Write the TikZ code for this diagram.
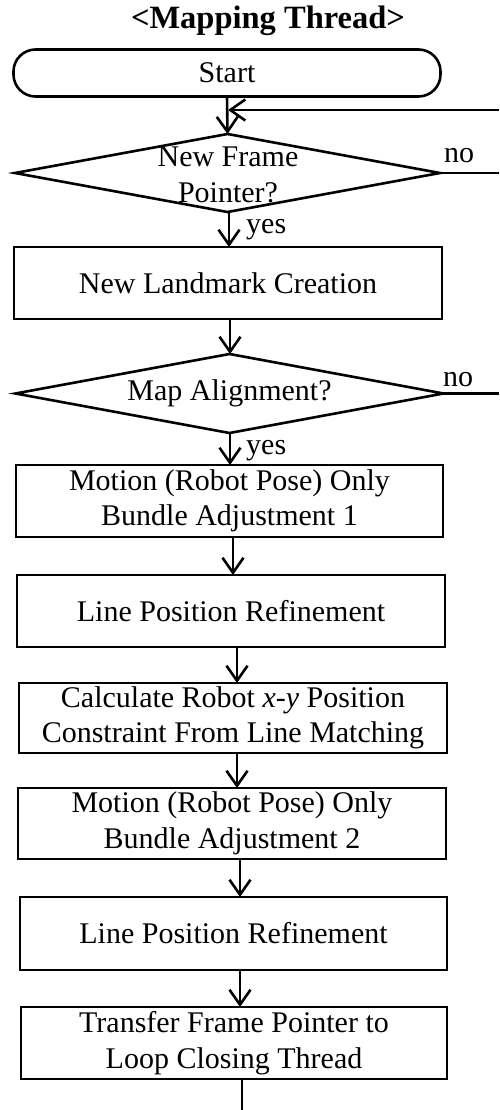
\documentclass[tikz,border=0pt]{standalone}
\usepackage{fontspec}
\setmainfont{Liberation Serif}
\usetikzlibrary{arrows.meta,shapes.geometric}

\tikzset{
  outline/.style={draw, line width=2.6pt, inner sep=0pt, outer sep=0pt},
  txt/.style={font=\fontsize{30}{35.5}\selectfont, align=center, inner sep=0pt},
  procbox/.style={outline, txt, rectangle, minimum height=72pt, minimum width=428pt},
  terminal/.style={outline, txt, rectangle, rounded corners=22pt, minimum width=427pt, minimum height=47pt},
  decision/.style={outline, diamond, minimum width=425pt, minimum height=78pt},
  tag/.style={font=\fontsize{30}{36}\selectfont, inner sep=0pt, anchor=base west},
  flow/.style={line width=2.6pt, -{Straight Barb[length=15pt,width=21pt]}},
  link/.style={line width=2.6pt},
}

\begin{document}
\begin{tikzpicture}[x=1pt,y=-1pt]
\useasboundingbox (0,0) rectangle (499,1110);

% heading
\node[font=\bfseries\fontsize{32.5}{38}\selectfont, inner sep=0pt] (title) at (268,21) {<Mapping Thread>};

% flow elements
\node[terminal] (start) at (227,73) {Start};
\node[decision] (d1) at (227.5,173) {};
\node[txt] (d1t) at (228,175) {New Frame\\Pointer?};
\node[procbox] (b1) at (228,283) {New Landmark Creation};
\node[decision, minimum width=428pt, minimum height=79pt] (d2) at (229.5,393.5) {};
\node[txt] (d2t) at (229.5,393.5) {Map Alignment?};
\node[procbox, minimum width=427pt] (b2) at (229.5,501) {Motion (Robot Pose) Only\\Bundle Adjustment 1};
\node[procbox] (b3) at (231,611) {Line Position Refinement};
\node[procbox, minimum height=70pt] (b4) at (233,718) {Calculate Robot \textit{x-y} Position\\Constraint From Line Matching};
\node[procbox, minimum height=71pt] (b5) at (232,823.5) {Motion (Robot Pose) Only\\Bundle Adjustment 2};
\node[procbox, minimum height=73pt, minimum width=427pt] (b6) at (233.5,933.5) {Line Position Refinement};
\node[procbox, minimum width=426pt] (b7) at (234,1043) {Transfer Frame Pointer to\\Loop Closing Thread};

% branch labels
\node[tag] (yes1) at (246,233) {yes};
\node[tag] (no1) at (444,163) {no};
\node[tag] (yes2) at (246,454) {yes};
\node[tag] (no2) at (443,386) {no};

% loose ends of the connectors
\coordinate (loopin) at (499,110);
\coordinate (merge) at (228,110);
\coordinate (no1end) at (499,173);
\coordinate (no2end) at (499,393.5);
\coordinate (tail) at (242,1110);

% connectors
\draw[flow] (start.south) -- (d1.north);
\draw[flow] (loopin) -- (merge);
\draw[link] (d1.east) -- (no1end);
\draw[flow] ([xshift=1.5pt]d1.south) -- ([xshift=1pt]b1.north);
\draw[flow] ([xshift=2pt]b1.south) -- ([xshift=0.5pt]d2.north);
\draw[link] (d2.east) -- (no2end);
\draw[flow] ([xshift=0.5pt]d2.south) -- ([xshift=0.5pt]b2.north);
\draw[flow] ([xshift=3.5pt]b2.south) -- ([xshift=2pt]b3.north);
\draw[flow] ([xshift=6pt]b3.south) -- ([xshift=4pt]b4.north);
\draw[flow] ([xshift=4pt]b4.south) -- ([xshift=5pt]b5.north);
\draw[flow] ([xshift=8pt]b5.south) -- ([xshift=6.5pt]b6.north);
\draw[flow] ([xshift=6.5pt]b6.south) -- ([xshift=6pt]b7.north);
\draw[link] ([xshift=8pt]b7.south) -- (tail);
\end{tikzpicture}
\end{document}
